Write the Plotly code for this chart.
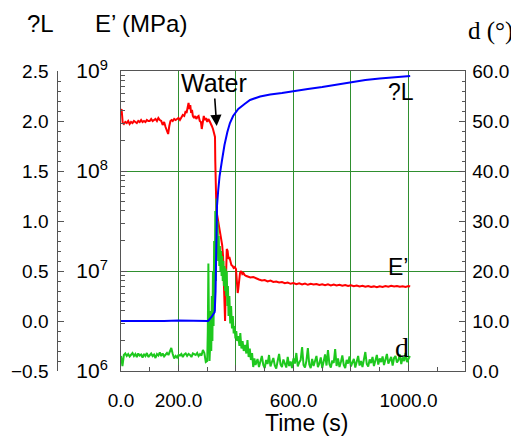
import numpy as np
import plotly.graph_objects as go

# ---------------- data ----------------
# ?L (blue)
t_L = [0, 50, 100, 150, 200, 250, 303, 315, 326, 329, 330, 332, 334, 338, 343,
       351, 360, 370, 379, 390, 408, 430, 449, 484, 519, 560, 599, 650, 700,
       750, 801, 850, 900, 950, 1006]
dL = [0.0, 0.0, -0.005, 0.0, 0.005, 0.0, 0.0, 0.04, 0.09, 0.3, 0.5, 0.9, 1.15,
      1.3, 1.45, 1.6, 1.76, 1.89, 1.98, 2.05, 2.12, 2.17, 2.21, 2.245, 2.265,
      2.28, 2.30, 2.32, 2.34, 2.365, 2.39, 2.41, 2.425, 2.44, 2.45]

# E' (red), stored as log10 of the value
t_E = [0, 2, 4, 6, 10, 15, 20, 25, 30, 35, 40, 45, 50, 55, 60, 65, 70, 75, 80,
       85, 90, 95, 100, 105, 110, 115, 120, 125, 130, 135, 140, 145, 150, 155,
       160, 164, 168, 172, 176, 180, 185, 190, 195, 200, 205, 210, 215, 220,
       225, 228, 232, 235, 238, 241, 244, 247, 250, 254, 258, 262, 266, 270,
       274, 278, 281, 284, 288, 292, 296, 300, 304, 308, 312, 316, 320, 324,
       327, 328, 329, 330, 332, 335, 338, 341, 345, 349, 352, 355, 358, 360,
       362, 364, 366, 368, 371, 374, 377, 380, 384, 388, 392, 396, 400, 403,
       406, 408, 411, 414, 418, 422, 426, 430, 436,
       440, 450, 460, 470, 480, 490, 500, 510, 520, 530, 540, 550, 560, 570,
       580, 590, 600, 610, 620, 630, 640, 650, 660, 670, 680, 690, 700, 710,
       720, 730, 740, 750, 760, 770, 780, 790, 800, 810, 820, 830, 840, 850,
       860, 870, 880, 890, 900, 910, 920, 930, 940, 950, 960, 970, 980, 990,
       1000, 1006]
E_log10 = [8.60, 8.62, 8.55, 8.48, 8.47, 8.49, 8.48, 8.50, 8.47, 8.49, 8.48,
           8.50, 8.49, 8.48, 8.50, 8.49, 8.51, 8.49, 8.50, 8.49, 8.51, 8.50,
           8.50, 8.52, 8.50, 8.51, 8.52, 8.50, 8.53, 8.51, 8.50, 8.46, 8.49,
           8.44, 8.40, 8.37, 8.45, 8.50, 8.51, 8.50, 8.52, 8.51, 8.52, 8.53,
           8.51, 8.53, 8.56, 8.55, 8.60, 8.58, 8.66, 8.68, 8.62, 8.66, 8.58,
           8.61, 8.55, 8.53, 8.55, 8.52, 8.54, 8.55, 8.50, 8.49, 8.42, 8.47,
           8.55, 8.51, 8.53, 8.49, 8.52, 8.50, 8.48, 8.45, 8.42, 8.38, 8.34,
           8.10, 7.85, 7.70, 7.60, 7.55, 7.50, 7.42, 7.38, 7.30, 7.26, 7.15,
           6.90, 6.60, 6.50, 6.80, 7.15, 7.22, 7.20, 7.12, 7.14, 7.10, 7.06,
           7.05, 7.03, 7.04, 7.02, 6.90, 6.78, 6.82, 6.95, 6.98, 7.00, 6.97,
           6.98, 6.96, 6.95,
           6.945, 6.935, 6.94, 6.925, 6.915, 6.905, 6.91, 6.895, 6.905, 6.89,
           6.895, 6.885, 6.89, 6.878, 6.885, 6.872, 6.88, 6.868, 6.877, 6.865,
           6.874, 6.862, 6.872, 6.865, 6.87, 6.86, 6.868, 6.858, 6.866, 6.856,
           6.865, 6.855, 6.862, 6.852, 6.86, 6.85, 6.858, 6.848, 6.855, 6.845,
           6.852, 6.842, 6.85, 6.84, 6.846, 6.838, 6.848, 6.84, 6.85, 6.842,
           6.852, 6.845, 6.85, 6.842, 6.848, 6.84, 6.85, 6.845]

# d (green), degrees
t_d = (list(range(0, 301, 5)) +
       [302, 304, 306, 308, 310, 312, 314, 316, 318, 320, 322, 324, 326, 328,
        330, 332, 334, 336, 338, 340, 342, 344, 346, 348, 350, 352, 354, 356,
        358, 360, 362, 364, 366, 368, 370, 372, 374, 377, 380, 383, 386, 389,
        392, 395, 398, 401, 404, 408, 412, 415, 419, 423, 427, 432, 436, 440,
        444, 448, 452, 456, 460, 464, 468] +
       list(range(470, 1006, 5)))
d_deg = [3.0, 1.0, 3.2, 3.5, 3.0, 3.4, 2.9, 3.3, 3.6, 3.0,
         3.4, 2.8, 3.5, 3.1, 3.3, 2.7, 3.4, 3.0, 3.6, 2.8,
         3.2, 3.5, 3.0, 3.3, 2.6, 3.4, 3.1, 3.7, 3.0, 3.5,
         2.9, 3.3, 3.6, 3.2, 3.8, 4.6, 3.4, 2.5, 3.0, 2.7,
         3.2, 3.1, 3.4, 2.8, 3.3, 3.5, 3.0, 3.4, 3.2, 2.8,
         3.5, 3.3, 3.2, 3.6, 3.0, 3.4, 3.1, 4.2, 3.6, 1.8,
         2.0,
         8.0, 21.5, 9.0, 2.0, 5.0, 12.0, 4.0, 15.0, 6.0, 20.0, 9.0, 26.0, 12.0,
         32.0, 18.0, 34.5, 26.0, 30.0, 22.0, 27.0, 21.0, 25.0, 20.0, 24.0, 19.0,
         23.0, 18.0, 22.0, 17.0, 21.0, 16.0, 20.5, 15.0, 20.0, 13.0, 17.0, 11.0,
         15.0, 9.5, 13.0, 8.5, 11.0, 7.5, 9.0, 6.5, 8.0, 6.0, 7.0, 5.0, 7.6, 4.5,
         6.0, 4.0, 5.2, 3.5, 6.2, 2.8, 4.5, 2.2, 3.6, 0.8, 2.5, 1.2,
         1.5, 2.4, 0.8, 1.9, 3.0, 1.2, 0.6, 2.2, 1.4, 3.2,
         0.9, 1.8, 2.6, 1.1, 0.5, 2.0, 3.4, 1.3, 0.8, 2.3,
         1.6, 0.7, 2.8, 1.0, 1.9, 0.6, 2.5, 1.5, 3.6, 0.9,
         1.7, 2.2, 4.8, 1.2, 0.7, 2.0, 4.6, 1.3, 0.6, 2.4,
         1.0, 1.8, 3.0, 0.8, 1.5, 2.7, 0.6, 1.9, 3.3, 1.1,
         4.2, 1.4, 0.7, 2.1, 1.6, 4.4, 1.0, 2.5, 0.8, 1.8,
         3.1, 1.2, 0.6, 2.2, 1.5, 2.9, 0.9, 1.7, 2.4, 0.7,
         1.9, 3.0, 1.1, 2.0, 0.8, 2.6, 3.8, 1.4, 0.9, 2.3,
         1.6, 2.8, 1.0, 2.1, 3.2, 1.3, 2.5, 1.8, 2.9, 1.2,
         2.4, 3.4, 1.5, 2.0, 2.8, 1.1, 2.6, 3.0, 1.7, 2.2,
         3.3, 1.4, 2.7, 2.0, 3.6, 1.8, 2.4, 3.0, 8.2, 1.5]

x_tickvals = [0, 200, 400, 600, 800, 1000]
x_ticktext = ["0.0", "200.0", "", "600.0", "", "1000.0"]
E_tickvals = [1e6, 1e7, 1e8, 1e9]
E_ticktext = ["10<sup>6</sup>", "10<sup>7</sup>", "10<sup>8</sup>",
              "10<sup>9</sup>"]
E_minor_tickvals = [k * 10.0 ** e for e in (6, 7, 8) for k in range(2, 10)]
dL_tickvals = [-0.5, 0.0, 0.5, 1.0, 1.5, 2.0, 2.5]
d_tickvals = [0, 10, 20, 30, 40, 50, 60]

# ---------------- figure ----------------
# the page body has an 8px margin, so the figure is 8px smaller and all
# reference pixel positions below are converted accordingly
OFF = 8
W, H = 519 - OFF, 437 - OFF
PLOT_L, PLOT_R, PLOT_T, PLOT_B = 121, 464.5, 71, 371
ML, MR = 40 - OFF, 40
MT = PLOT_T - OFF
MB = H - (PLOT_B - OFF)
PW, PH = W - ML - MR, H - MT - MB


def px(x):
    return (x - OFF - ML) / PW


def py(y):
    return (PLOT_B - y) / PH


SANS = "Liberation Sans, Arial, sans-serif"
SERIF = "Liberation Serif, Times New Roman, serif"
AX = "#555555"
GRID = "#2f8f2f"

fig = go.Figure()
fig.add_trace(go.Scatter(x=t_E, y=10 ** np.array(E_log10), mode="lines",
                         line=dict(color="#ff0000", width=2), yaxis="y",
                         showlegend=False))
fig.add_trace(go.Scatter(x=t_d, y=d_deg, mode="lines",
                         line=dict(color="#1ec81e", width=2), yaxis="y2",
                         showlegend=False))
fig.add_trace(go.Scatter(x=t_L, y=dL, mode="lines",
                         line=dict(color="#0000ff", width=2), yaxis="y3",
                         showlegend=False))

tickfont = dict(family=SANS, size=19, color="black")

fig.update_layout(
    width=W, height=H, margin=dict(l=ML, r=MR, t=MT, b=MB, autoexpand=False),
    paper_bgcolor="white", plot_bgcolor="white",
    xaxis=dict(domain=[px(PLOT_L), px(PLOT_R)], range=[0, 1195],
               automargin=False,
               tickvals=x_tickvals, ticktext=x_ticktext, ticks="inside",
               ticklen=6, tickcolor=AX, showline=True, linecolor=AX,
               linewidth=1, mirror=True, showgrid=True, gridcolor=GRID,
               gridwidth=1, zeroline=False,
               tickfont=dict(family=SANS, size=19, color="black"),
               ticklabelstandoff=12,
               minor=dict(dtick=100, tick0=0, ticks="inside", ticklen=4,
                          tickcolor=AX, showgrid=False)),
    yaxis=dict(type="log", range=[6, 9], tickvals=E_tickvals,
               ticktext=E_ticktext, automargin=False,
               ticks="inside", ticklen=6,
               tickcolor=AX, showline=True, linecolor=AX, linewidth=1,
               showgrid=True, gridcolor=GRID, gridwidth=1, zeroline=False,
               tickfont=dict(family=SANS, size=21, color="black"),
               ticklabelstandoff=8,
               minor=dict(tickmode="array", tickvals=E_minor_tickvals,
                          ticks="inside", ticklen=4,
                          tickcolor=AX, showgrid=False)),
    yaxis2=dict(overlaying="y", side="right", anchor="x", range=[0, 60],
                automargin=False,
                tickvals=d_tickvals, tickformat=".1f", ticks="inside",
                ticklen=6, tickcolor=AX, showline=True, linecolor=AX,
                linewidth=1, showgrid=False, zeroline=False,
                tickfont=tickfont, ticklabelstandoff=3,
                minor=dict(dtick=2, tick0=0, ticks="inside", ticklen=3,
                           tickcolor=AX, showgrid=False)),
    yaxis3=dict(overlaying="y", side="left", anchor="free",
                position=px(57.3), range=[-0.5, 2.5], automargin=False,
                tickvals=dL_tickvals, tickformat=".1f", ticks="inside",
                ticklen=6, tickcolor=AX, showline=True, linecolor=AX,
                linewidth=1, showgrid=False, zeroline=False,
                tickfont=tickfont, ticklabelstandoff=5,
                minor=dict(dtick=0.1, tick0=0, ticks="inside", ticklen=3,
                           tickcolor=AX, showgrid=False)),
)

ann = []


def label(text, x, y, size, family=SANS):
    ann.append(dict(text=text, xref="paper", yref="paper", x=px(x), y=py(y),
                    xanchor="center", yanchor="middle", showarrow=False,
                    font=dict(family=family, size=size, color="black")))


label("?L", 40, 24, 24)
label("E’ (MPa)", 141, 24, 24)
label("d (°)", 490, 31, 25, SERIF)
label("Time (s)", 306, 423, 23)
label("?L", 401, 92, 23)
label("E’", 398, 267, 23)
label("d", 402, 347, 28, SERIF)

# Water arrow
ann.append(dict(text="Water", xref="paper", yref="paper", x=px(216.7),
                y=py(126), ax=-3, ay=-43, showarrow=True, arrowhead=2,
                arrowsize=1.4, arrowwidth=1.6, arrowcolor="black",
                standoff=0, startstandoff=0,
                font=dict(family=SANS, size=25, color="black")))

fig.update_layout(annotations=ann)
fig.write_html("out.html")
